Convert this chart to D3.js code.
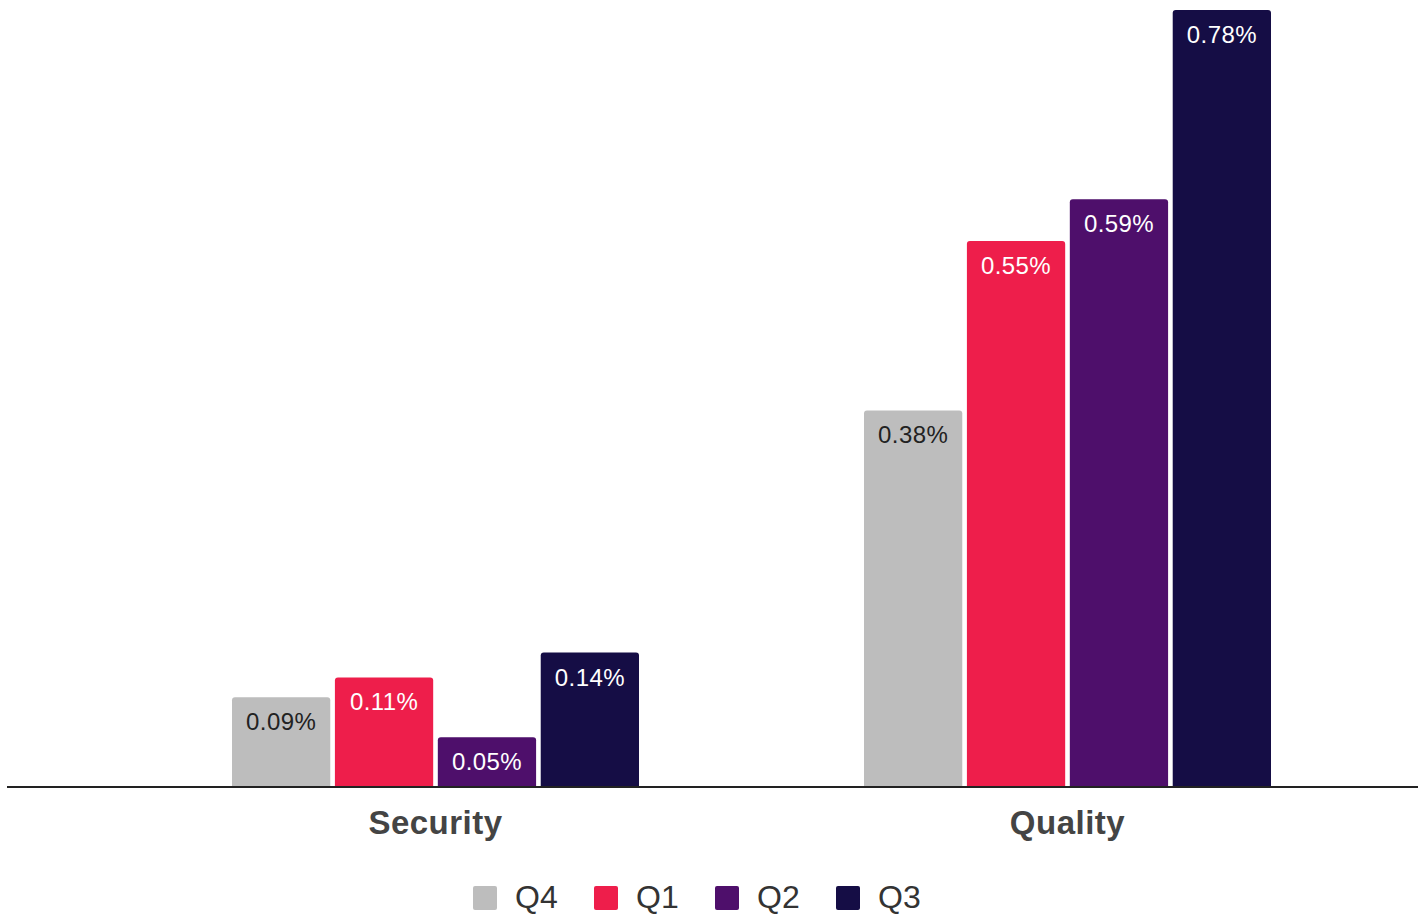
<!DOCTYPE html>
<html>
<head>
<meta charset="utf-8">
<script src="https://cdn.jsdelivr.net/npm/d3@7"></script>
<style>
html,body{margin:0;padding:0;background:#fff;}
svg{display:block;font-family:"Liberation Sans",Arial,sans-serif;}
</style>
</head>
<body>
<svg id="chart" width="1424" height="914"></svg>
<script>
const categories = ["Security", "Quality"];
const seriesNames = ["Q4", "Q1", "Q2", "Q3"];
const seriesColors = ["#bdbdbd", "#ee1e4b", "#4e0f6b", "#150d45"];
const labelColors = ["#222222", "#ffffff", "#ffffff", "#ffffff"];
const q4 = [0.09, 0.378];
const q1 = [0.11, 0.548];
const q2 = [0.05, 0.59];
const q3 = [0.135, 0.78];
const labelsText = [["0.09%", "0.38%"], ["0.11%", "0.55%"], ["0.05%", "0.59%"], ["0.14%", "0.78%"]];
const seriesValues = [q4, q1, q2, q3];

const svg = d3.select("#chart");
const baseY = 787;

const y = d3.scaleLinear().domain([0, 0.78]).range([baseY, 10]);
const x0 = d3.scaleBand().domain(categories).range([232, 1271]).paddingInner(0.356).paddingOuter(0);
const x1 = d3.scaleBand().domain(seriesNames).range([0, x0.bandwidth()]).paddingInner(0.045);

const r = 3;
function topRounded(x, yTop, w, h) {
  return `M${x},${yTop + h} V${yTop + r} Q${x},${yTop} ${x + r},${yTop} H${x + w - r} Q${x + w},${yTop} ${x + w},${yTop + r} V${yTop + h} Z`;
}

categories.forEach((cat, ci) => {
  const g = svg.append("g").attr("transform", `translate(${x0(cat)},0)`);
  seriesNames.forEach((s, si) => {
    const v = seriesValues[si][ci];
    const bx = x1(s), bw = x1.bandwidth();
    const yt = y(v);
    g.append("path")
      .attr("d", topRounded(bx, yt, bw, baseY - yt))
      .attr("fill", seriesColors[si]);
    g.append("text")
      .attr("x", bx + bw / 2)
      .attr("y", yt + 33)
      .attr("text-anchor", "middle")
      .attr("font-size", 24)
      .attr("letter-spacing", 0.4)
      .attr("fill", labelColors[si])
      .text(labelsText[si][ci]);
  });
});

// baseline axis
const xAxis = d3.axisBottom(x0).tickSize(0).tickPadding(24);
const axG = svg.append("g").attr("transform", `translate(0,${baseY})`).call(xAxis);
axG.select(".domain").remove();
axG.selectAll("text")
  .attr("font-size", 33)
  .attr("font-weight", "bold")
  .attr("letter-spacing", 0.5)
  .attr("fill", "#444")
  .attr("font-family", "Liberation Sans, Arial, sans-serif");
svg.append("line")
  .attr("x1", 7).attr("x2", 1418)
  .attr("y1", baseY).attr("y2", baseY)
  .attr("stroke", "#222").attr("stroke-width", 2);

// legend
const legend = svg.append("g");
const legX = d3.scaleOrdinal().domain(seriesNames).range([473, 594, 715, 836]);
seriesNames.forEach((s, i) => {
  legend.append("rect")
    .attr("x", legX(s)).attr("y", 886)
    .attr("width", 24).attr("height", 24)
    .attr("rx", 2)
    .attr("fill", seriesColors[i]);
  legend.append("text")
    .attr("x", legX(s) + 42).attr("y", 908)
    .attr("font-size", 32)
    .attr("fill", "#333")
    .text(s);
});
</script>
</body>
</html>
